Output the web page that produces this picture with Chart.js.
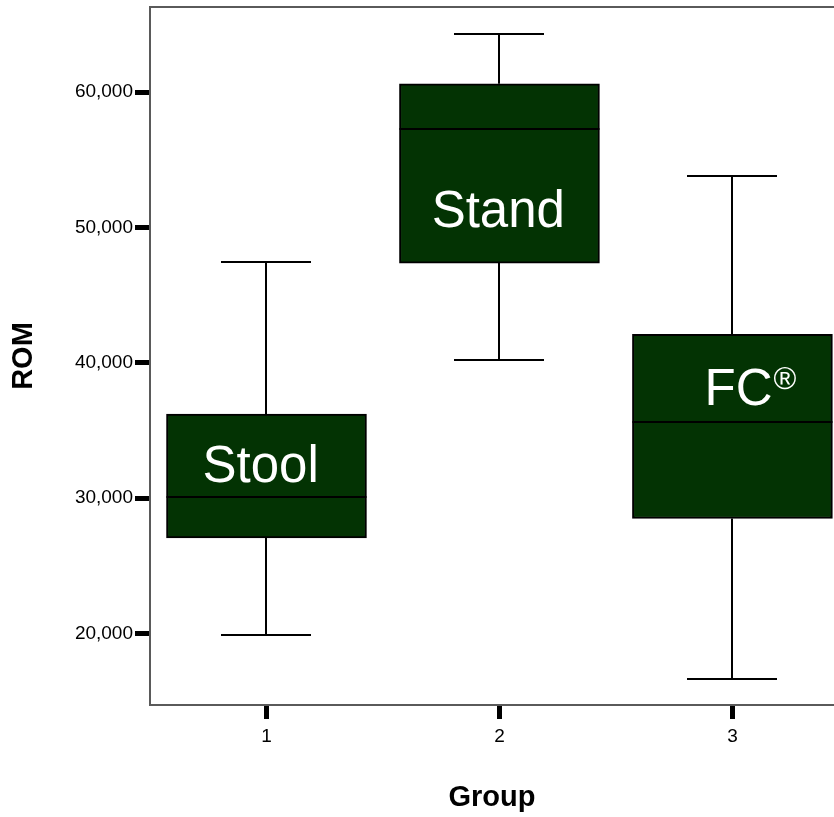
<!DOCTYPE html>
<html>
<head>
<meta charset="utf-8">
<title>ROM by Group</title>
<script src="https://cdn.jsdelivr.net/npm/chart.js@4/dist/chart.umd.min.js"></script>
<style>
  html, body { margin: 0; padding: 0; background: #fff; overflow: hidden; }
  #wrap { width: 834px; height: 817px; }
</style>
</head>
<body>
<div id="wrap"><canvas id="c" width="834" height="817"></canvas></div>
<script>
// Box plot summary per group (ROM)
const groups = [1, 2, 3];
const groupNames = ['Stool', 'Stand', 'FC®'];
const whiskerLow = [19.87, 40.18, 16.62];
const q1 = [27.06, 47.37, 28.49];
const median = [30.09, 57.30, 35.63];
const q3 = [36.20, 60.62, 42.10];
const whiskerHigh = [47.44, 64.31, 53.77];

// Axis ticks
const yTicks = [20, 30, 40, 50, 60];
const yTickLabels = ['20,000', '30,000', '40,000', '50,000', '60,000'];
const xTickLabels = ['1', '2', '3'];

// Anchor (centre x, baseline y) of each group name, in axis units
const nameX = [0.975, 1.995, 3.075];
const nameY = [31.2, 50.03, 36.86];

const FONT = '"Liberation Sans", Arial, Helvetica, sans-serif';
const FRAME = '#5a5a5a';

const boxParts = {
  id: 'boxParts',
  beforeDatasetsDraw(chart) {
    // whiskers and caps, drawn under the boxes
    const { ctx, scales: { x, y } } = chart;
    const meta = chart.getDatasetMeta(0);
    ctx.save();
    ctx.strokeStyle = '#000';
    ctx.lineWidth = 2;
    groups.forEach((g, i) => {
      const cx = Math.round(x.getPixelForValue(g));
      const half = meta.data[i].width * 0.225;
      const yLo = Math.round(y.getPixelForValue(whiskerLow[i]));
      const yHi = Math.round(y.getPixelForValue(whiskerHigh[i]));
      const yQ1 = y.getPixelForValue(q1[i]);
      const yQ3 = y.getPixelForValue(q3[i]);
      ctx.beginPath();
      ctx.moveTo(cx, yHi); ctx.lineTo(cx, yQ3);
      ctx.moveTo(cx, yQ1); ctx.lineTo(cx, yLo);
      ctx.moveTo(cx - half, yHi); ctx.lineTo(cx + half, yHi);
      ctx.moveTo(cx - half, yLo); ctx.lineTo(cx + half, yLo);
      ctx.stroke();
    });
    ctx.restore();
  },
  afterDatasetsDraw(chart) {
    const { ctx, scales: { x, y } } = chart;
    const meta = chart.getDatasetMeta(0);
    ctx.save();
    // median lines
    ctx.strokeStyle = '#000';
    ctx.lineWidth = 2;
    groups.forEach((g, i) => {
      const bar = meta.data[i];
      const ym = Math.round(y.getPixelForValue(median[i]));
      ctx.beginPath();
      ctx.moveTo(bar.x - bar.width / 2, ym);
      ctx.lineTo(bar.x + bar.width / 2, ym);
      ctx.stroke();
    });
    // group names inside the boxes; a trailing ® is set as a superscript
    ctx.fillStyle = '#fff';
    ctx.textBaseline = 'alphabetic';
    ctx.textAlign = 'left';
    const mainFont = '51px ' + FONT;
    const supFont = '31px ' + FONT;
    groupNames.forEach((name, i) => {
      const m = name.match(/^(.*?)(®)?$/);
      const main = m[1];
      const sup = m[2] || '';
      ctx.font = mainFont;
      const wMain = ctx.measureText(main).width;
      ctx.font = supFont;
      const wSup = sup ? ctx.measureText(sup).width : 0;
      const cx = x.getPixelForValue(nameX[i]);
      const by = y.getPixelForValue(nameY[i]);
      const left = cx - (wMain + wSup) / 2;
      ctx.font = mainFont;
      ctx.fillText(main, left, by);
      if (sup) {
        ctx.font = supFont;
        ctx.fillText(sup, left + wMain + 1, by - 16);
      }
    });
    ctx.restore();
  },
  afterDraw(chart) {
    // top edge of the plot frame
    const { ctx, chartArea: a } = chart;
    ctx.save();
    ctx.strokeStyle = FRAME;
    ctx.lineWidth = 2;
    ctx.beginPath();
    ctx.moveTo(a.left - 1, a.top);
    ctx.lineTo(a.right + 2, a.top);
    ctx.stroke();
    ctx.restore();
  }
};

new Chart(document.getElementById('c'), {
  type: 'bar',
  data: {
    datasets: [{
      data: groups.map((g, i) => ({ x: g, y: [q1[i], q3[i]] })),
      backgroundColor: '#033303',
      borderColor: '#000',
      borderWidth: 2,
      borderSkipped: false,
      barThickness: 200
    }]
  },
  options: {
    responsive: false,
    animation: false,
    events: [],
    layout: { padding: { top: 7, left: 0, right: 0, bottom: 0 } },
    plugins: { legend: { display: false }, tooltip: { enabled: false } },
    scales: {
      x: {
        type: 'linear',
        min: 0.5,
        max: 3.436,
        offset: false,
        afterBuildTicks: s => { s.ticks = groups.map(v => ({ value: v })); },
        afterFit: s => { s.height = 112; s.paddingLeft = 0; s.paddingRight = 0; },
        ticks: {
          callback: (v, i) => xTickLabels[i],
          color: '#000',
          font: { family: FONT, size: 19 },
          padding: 6,
          autoSkip: false,
          maxRotation: 0
        },
        grid: { offset: false, drawOnChartArea: false, drawTicks: true, tickLength: 14, tickWidth: 5, tickColor: '#000' },
        border: { display: true, color: FRAME, width: 2 },
        title: {
          display: true, text: 'Group', color: '#000',
          font: { family: FONT, size: 29, weight: 'bold' },
          padding: { top: 0, bottom: 2 }
        }
      },
      y: {
        min: 14.7,
        max: 66.3,
        afterBuildTicks: s => { s.ticks = yTicks.map(v => ({ value: v })); },
        afterFit: s => { s.width = 150; s.paddingTop = 0; s.paddingBottom = 0; },
        ticks: {
          callback: (v, i) => yTickLabels[i],
          color: '#000',
          font: { family: FONT, size: 19 },
          padding: 2
        },
        grid: { drawOnChartArea: false, drawTicks: true, tickLength: 15, tickWidth: 5, tickColor: '#000' },
        border: { display: true, color: FRAME, width: 2 },
        title: {
          display: true, text: 'ROM', color: '#000',
          font: { family: FONT, size: 29, weight: 'bold' },
          padding: { top: 7, bottom: 0 }
        }
      }
    }
  },
  plugins: [boxParts]
});
</script>
</body>
</html>
